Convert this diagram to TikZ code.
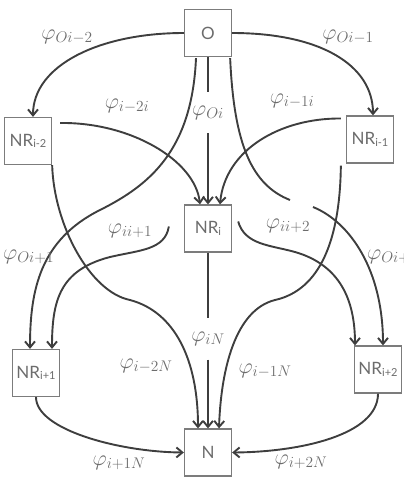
\RequirePackage{fix-cm}
\documentclass[tikz,border=0pt]{standalone}
\usepackage{fontspec}
\setsansfont{Lato}
\usetikzlibrary{arrows.meta}
\definecolor{flowgray}{HTML}{3E3E3E}
\definecolor{boxgray}{HTML}{7C7C7C}
\definecolor{labelgray}{HTML}{6C6C6C}
\newcommand\nrsub[1]{\raisebox{-1.5pt}{\fontsize{11}{11}\selectfont #1}}
\tikzset{
  box/.style={draw=boxgray, line width=1.3pt, minimum width=47pt, minimum height=47pt,
    inner sep=0pt, text=labelgray, font=\sffamily\fontsize{17}{17}\selectfont},
  line/.style={draw=flowgray, line width=1.9pt},
  flow/.style={line, -{Straight Barb[length=6pt,width=10pt]}},
  phi/.style={text=labelgray, inner sep=0pt, font=\fontsize{22}{26}\selectfont},
  gaplabel/.style={minimum height=41pt}
}

\begin{document}
\begin{tikzpicture}[x=1pt,y=-1pt]
\useasboundingbox (0,0) rectangle (404,496);
% the seven boxes
\node[box] (o) at (208,33) {O};
\node[box] (nrim2) at (28,141) {NR\nrsub{i-2}};
\node[box] (nrim1) at (370,139.5) {NR\nrsub{i-1}};
\node[box] (nri) at (208,228.5) {NR\nrsub{i}};
\node[box] (nrip1) at (36,373) {NR\nrsub{i+1}};
\node[box] (nrip2) at (378,369.5) {NR\nrsub{i+2}};
\node[box] (n) at (208,452.5) {N};

% labels sitting in the straight lines
\node[phi,gaplabel] (lOi) at (208,112.5) {$\varphi_{Oi}$};
\node[phi,gaplabel] (liN) at (208,339) {$\varphi_{iN}$};

% out of O
\draw[flow] (o.west) .. controls (100,33) and (33,65) .. ([shift={(5,0)}]nrim2.north);
\draw[flow] (o.east) .. controls (320,33) and (373,65) .. ([shift={(3,0)}]nrim1.north);
\draw[line] (o) -- (lOi);
\draw[flow] (lOi) -- (nri);
\draw[flow] ([shift={(-12,1)}]o.south) .. controls (192,150) and (150,185) .. (100,210)
  .. controls (40,240) and (30,290) .. ([shift={(-6,0)}]nrip1.north);
\coordinate (kinkA) at (290,200);
\coordinate (kinkB) at (313,207);
\draw[line] ([shift={(-2,1)}]o.south east) .. controls (234,145) and (252,185) .. (kinkA);
\draw[flow] (kinkB) .. controls (350,222) and (383,270) .. ([shift={(5,0)}]nrip2.north);

% into NR_i
\draw[flow] ([shift={(8,-18)}]nrim2.east) .. controls (130,122) and (195,160) .. ([shift={(-8,0)}]nri.north);
\draw[flow] ([shift={(-5,-21)}]nrim1.west) .. controls (280,118) and (225,150) .. ([shift={(12,0)}]nri.north);

% out of NR_i
\draw[line] (nri) -- (liN);
\draw[flow] (liN) -- (n);
\draw[flow] ([shift={(-15,-2)}]nri.west) .. controls (165,250) and (140,250) .. (110,257)
  .. controls (60,270) and (52,300) .. ([shift={(16,0)}]nrip1.north);
\draw[flow] ([shift={(6,-7)}]nri.east) .. controls (245,245) and (270,245) .. (295,252)
  .. controls (340,265) and (355,300) .. ([shift={(-23,0)}]nrip2.north);

% into N
\draw[flow] (nrim2.south east) .. controls (54,225) and (90,292) .. (130,300)
  .. controls (175,312) and (198,360) .. ([shift={(-10,0)}]n.north);
\draw[flow] ([shift={(-5,2)}]nrim1.south west) .. controls (340,240) and (320,290) .. (275,300)
  .. controls (235,310) and (221,370) .. ([shift={(11,0)}]n.north);
\draw[flow] (nrip1.south) .. controls (36,430) and (120,452) .. (n.west);
\draw[flow] (nrip2.south) .. controls (378,435) and (300,452) .. (n.east);

% edge weights
\node[phi] (lOim2) at (67,37) {$\varphi_{Oi-2}$};
\node[phi] (lOim1) at (348,37) {$\varphi_{Oi-1}$};
\node[phi] (lim2i) at (127,106) {$\varphi_{i-2i}$};
\node[phi] (lim1i) at (292,101) {$\varphi_{i-1i}$};
\node[phi] (liip1) at (130,231) {$\varphi_{ii+1}$};
\node[phi] (liip2) at (288,226) {$\varphi_{ii+2}$};
\node[phi,anchor=west] (lOip1) at (3,257) {$\varphi_{Oi+1}$};
\node[phi,anchor=west] (lOip2) at (367,257) {$\varphi_{Oi+2}$};
\node[phi] (lim2N) at (146,366) {$\varphi_{i-2N}$};
\node[phi] (lim1N) at (265,371) {$\varphi_{i-1N}$};
\node[phi] (lip1N) at (119,463) {$\varphi_{i+1N}$};
\node[phi] (lip2N) at (301,462) {$\varphi_{i+2N}$};
\end{tikzpicture}
\end{document}
